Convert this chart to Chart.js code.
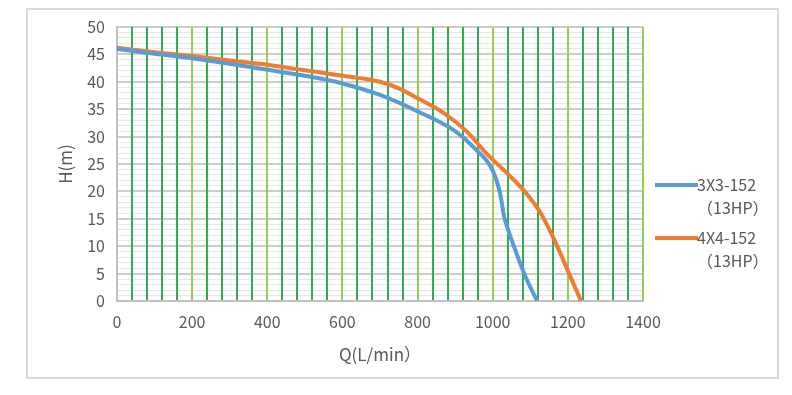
<!DOCTYPE html>
<html>
<head>
<meta charset="utf-8">
<script src="https://cdn.jsdelivr.net/npm/chart.js@4"></script>
<style>
  html, body { margin: 0; padding: 0; background: #fff; }
  #wrap { width: 792px; height: 395px; position: relative; }
</style>
</head>
<body>
<div id="wrap"><canvas id="myChart" width="792" height="395"></canvas></div>
<script>
// flow (L/min) and head (m) for each pump
const qBlue = [0, 100, 200, 300, 400, 500, 600, 700, 800, 900, 950, 1000, 1020, 1030, 1040, 1060, 1085, 1118];
const hBlue = [46, 45.1, 44.3, 43.3, 42.2, 41.1, 39.7, 37.6, 34.6, 31, 28, 23.8, 19.5, 15.5, 13.2, 9.3, 4.8, 0];
const qOrange = [0, 100, 200, 300, 400, 500, 600, 700, 750, 800, 870, 930, 985, 1040, 1085, 1128, 1165, 1200, 1235];
const hOrange = [46.2, 45.4, 44.7, 43.9, 43.1, 42.1, 41.1, 40.0, 38.8, 37.0, 34.3, 31, 26.8, 23.2, 20, 16, 11, 5.5, 0];
const seriesNames = [["3X3-152", "（13HP）"], ["4X4-152", "（13HP）"]];
const seriesColors = ["#5b9bd5", "#ed7d31"];

const FONT = "'Noto Sans CJK SC', 'Noto Sans', sans-serif";

function toPoints(xs, ys) {
  return xs.map((x, i) => ({ x: x, y: ys[i] }));
}

const framePlugin = {
  id: "frame",
  beforeDraw(chart) {
    const ctx = chart.ctx;
    ctx.save();
    ctx.strokeStyle = "#d9d9d9";
    ctx.lineWidth = 2;
    ctx.strokeRect(27, 9, 751, 369);
    ctx.restore();
  },
  afterDraw(chart) {
    // legend on the right, two-line labels
    const ctx = chart.ctx;
    ctx.save();
    ctx.font = "16px " + FONT;
    ctx.textBaseline = "middle";
    ctx.fillStyle = "#595959";
    const rows = [185, 238];
    chart.data.datasets.forEach((ds, i) => {
      const y = rows[i];
      ctx.strokeStyle = ds.borderColor;
      ctx.lineWidth = 4;
      ctx.beginPath();
      ctx.moveTo(655, y);
      ctx.lineTo(698, y);
      ctx.stroke();
      seriesNames[i].forEach((t, k) => {
        ctx.fillText(t, 697, y + k * 23);
      });
    });
    ctx.restore();
  },
};

const ctx = document.getElementById("myChart");
new Chart(ctx, {
  type: "scatter",
  data: {
    datasets: [
      {
        label: seriesNames[0].join(""),
        data: toPoints(qBlue, hBlue),
        showLine: true,
        borderColor: seriesColors[0],
        borderWidth: 4,
        pointRadius: 0,
        cubicInterpolationMode: "monotone",
      },
      {
        label: seriesNames[1].join(""),
        data: toPoints(qOrange, hOrange),
        showLine: true,
        borderColor: seriesColors[1],
        borderWidth: 4,
        pointRadius: 0,
        cubicInterpolationMode: "monotone",
      },
    ],
  },
  options: {
    responsive: false,
    animation: false,
    layout: { padding: { left: 0, right: 149, top: 27, bottom: 24 } },
    plugins: { legend: { display: false }, tooltip: { enabled: false } },
    scales: {
      x: {
        type: "linear",
        min: 0,
        max: 1400,
        afterFit(scale) { scale.height = 70; },
        ticks: {
          stepSize: 40,
          autoSkip: false,
          maxRotation: 0,
          padding: 11,
          color: "#595959",
          font: { family: FONT, size: 16 },
          callback: (v) => (v % 200 === 0 ? v : ""),
        },
        grid: {
          drawTicks: false,
          lineWidth: 2,
          color: (c) => {
            const v = c.tick ? c.tick.value : 0;
            if (v === 0) return "#bfbfbf";
            return v % 200 === 0 ? "#92d050" : "#33ab55";
          },
        },
        border: { color: "#bfbfbf", width: 2 },
        title: {
          display: true,
          text: "Q(L/min）",
          color: "#595959",
          font: { family: FONT, size: 17 },
          padding: { top: 0, bottom: 6 },
        },
      },
      y: {
        min: 0,
        max: 50,
        afterFit(scale) { scale.width = 117; },
        ticks: {
          stepSize: 1,
          autoSkip: false,
          padding: 12,
          color: "#595959",
          font: { family: FONT, size: 16 },
          callback: (v) => (v % 5 === 0 ? v : ""),
        },
        grid: {
          z: -2,
          drawTicks: false,
          lineWidth: (c) => (c.tick && c.tick.value % 5 === 0 ? 2 : 1),
          color: (c) => (c.tick && c.tick.value % 5 === 0 ? "#cccccc" : "#e8e8e8"),
        },
        border: { color: "#bfbfbf", width: 2 },
        title: {
          display: true,
          text: "H(m)",
          color: "#595959",
          font: { family: FONT, size: 17 },
          padding: { top: 55, bottom: 0 },
        },
      },
    },
  },
  plugins: [framePlugin],
});
</script>
</body>
</html>
